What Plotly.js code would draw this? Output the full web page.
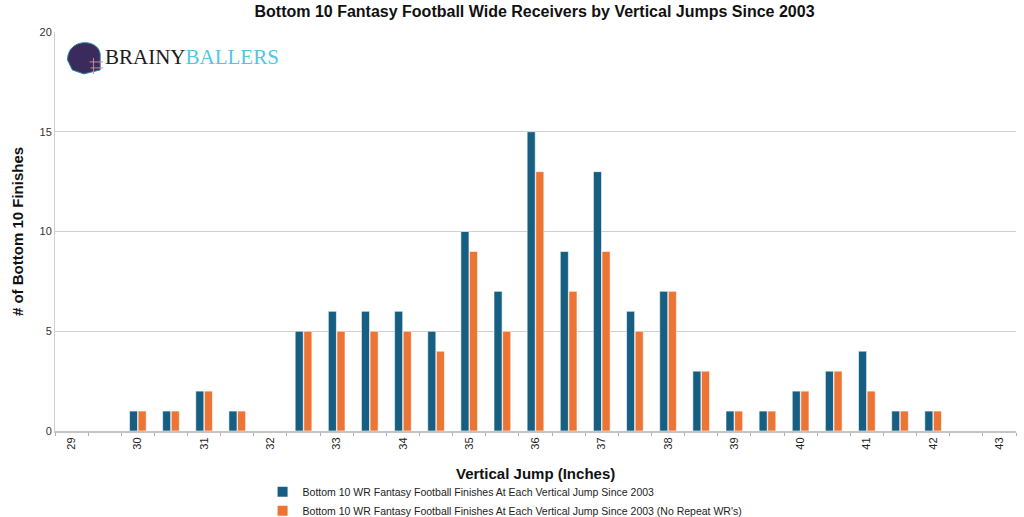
<!DOCTYPE html>
<html>
<head>
<meta charset="utf-8">
<script src="https://cdn.plot.ly/plotly-3.0.1.min.js"></script>
<style>html,body{margin:0;padding:0;background:#fff;}#chart{width:1024px;height:517px;}</style>
</head>
<body>
<div id="chart"></div>
<script>
var jumps = [29, 29.5, 30, 30.5, 31, 31.5, 32, 32.5, 33, 33.5, 34, 34.5, 35, 35.5, 36, 36.5, 37, 37.5, 38, 38.5, 39, 39.5, 40, 40.5, 41, 41.5, 42, 42.5, 43];
var finishes = [0, 0, 1, 1, 2, 1, 0, 5, 6, 6, 6, 5, 10, 7, 15, 9, 13, 6, 7, 3, 1, 1, 2, 3, 4, 1, 1, 0, 0];
var finishesNoRepeat = [0, 0, 1, 1, 2, 1, 0, 5, 5, 5, 5, 4, 9, 5, 13, 7, 9, 5, 7, 3, 1, 1, 2, 3, 2, 1, 1, 0, 0];
var xTickLabels = [29, 30, 31, 32, 33, 34, 35, 36, 37, 38, 39, 40, 41, 42, 43];
var yTicks = [0, 5, 10, 15, 20];

var traces = [
  {
    type: 'bar', x: jumps, y: finishes,
    name: 'Bottom 10 WR Fantasy Football Finishes At Each Vertical Jump Since 2003',
    marker: {color: '#175f82', line: {color: '#ffffff', width: 0.6}},
    hoverinfo: 'x+y'
  },
  {
    type: 'bar', x: jumps, y: finishesNoRepeat,
    name: "Bottom 10 WR Fantasy Football Finishes At Each Vertical Jump Since 2003 (No Repeat WR's)",
    marker: {color: '#ec7535', line: {color: '#ffffff', width: 0.6}},
    hoverinfo: 'x+y'
  }
];

var layout = {
  width: 1024, height: 517,
  margin: {l: 55, r: 8, t: 32, b: 86, autoexpand: false},
  paper_bgcolor: '#ffffff', plot_bgcolor: '#ffffff',
  font: {family: 'Liberation Sans, Arial, sans-serif', color: '#222'},
  title: {text: '<b>Bottom 10 Fantasy Football Wide Receivers by Vertical Jumps Since 2003</b>',
          font: {size: 16, color: '#111'}, x: 0.522, xanchor: 'center', y: 0.978, yanchor: 'middle'},
  barmode: 'group',
  bargap: 0.48, bargroupgap: 0.06,
  showlegend: true,
  legend: {x: 0.216, xanchor: 'left', yref: 'container', y: 0.077, yanchor: 'top', orientation: 'v',
           font: {size: 10.5, color: '#222'}, tracegroupgap: 0, itemsizing: 'constant',
           bgcolor: 'rgba(0,0,0,0)'},
  xaxis: {
    range: [28.75, 43.25],
    tickmode: 'array', tickvals: xTickLabels, ticktext: xTickLabels.map(String),
    tickangle: -90, ticks: '', tickfont: {size: 11, color: '#222'},
    showgrid: false, zeroline: false, automargin: false,
    showline: true, linecolor: '#c4c4c4', linewidth: 2,
    minor: {tick0: 29.25, dtick: 0.5, ticks: 'outside', ticklen: 3, tickcolor: '#b0b0b0', tickwidth: 1, showgrid: false},
    fixedrange: true
  },
  yaxis: {
    range: [0, 20], tickmode: 'array', tickvals: yTicks,
    tickfont: {size: 11, color: '#333'}, ticks: '', automargin: false,
    showgrid: true, gridcolor: '#cfcfcf', gridwidth: 1,
    zeroline: false, showline: true, linecolor: '#cfcfcf', linewidth: 1,
    title: {text: '<b># of Bottom 10 Finishes</b>', font: {size: 15, color: '#111'}, standoff: 12},
    fixedrange: true
  },
  annotations: [
    {xref: 'paper', yref: 'paper', x: 0.5, y: -0.107, xanchor: 'center', yanchor: 'middle', showarrow: false,
     text: '<b>Vertical Jump (Inches)</b>', font: {size: 15, color: '#111'}},
    {xref: 'paper', yref: 'paper', x: 0.05, y: 0.937, xanchor: 'left', yanchor: 'middle', showarrow: false,
     text: '<span style="color:#1c1c1c">BRAINY</span><span style="color:#4ec8e0">BALLERS</span>',
     font: {family: 'Liberation Serif, Times New Roman, serif', size: 21}}
  ],
  shapes: [
    {type: 'path', xref: 'paper', yref: 'paper',
     path: 'M 0.013 0.93 C 0.013 0.985, 0.045 0.985, 0.047 0.945 L 0.047 0.905 L 0.030 0.895 L 0.018 0.905 Z',
     fillcolor: '#3b2a5c', line: {color: '#2b8aa5', width: 1}},
    {type: 'path', xref: 'paper', yref: 'paper',
     path: 'M 0.036 0.925 L 0.050 0.925 M 0.037 0.910 L 0.050 0.910 M 0.040 0.935 L 0.040 0.895',
     line: {color: '#c98b93', width: 1}}
  ]
};

Plotly.newPlot('chart', traces, layout, {displayModeBar: false, staticPlot: true});
</script>
</body>
</html>
